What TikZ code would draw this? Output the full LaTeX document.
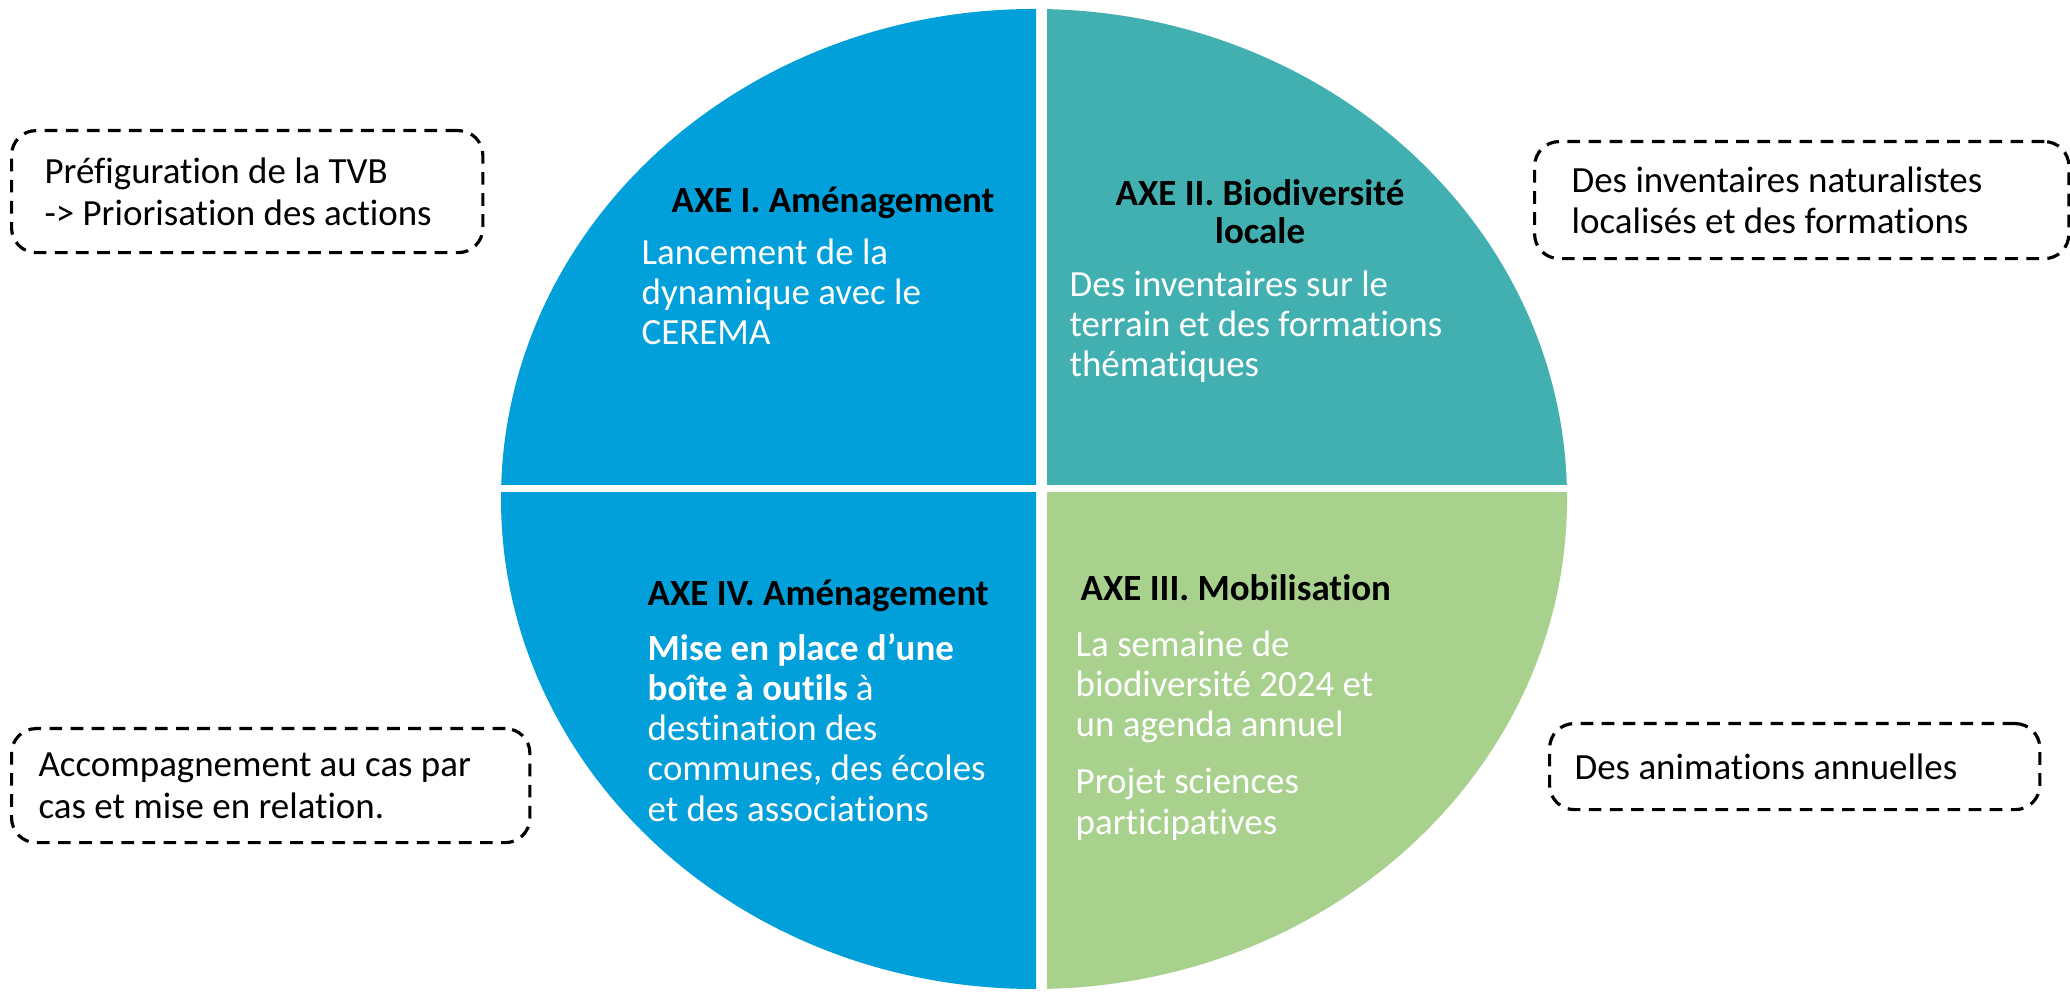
\documentclass[tikz,border=0pt]{standalone}
\usepackage{fontspec}
\setmainfont{Carlito}[Ligatures=CommonOff]
\usetikzlibrary{positioning}
\definecolor{axeblue}{RGB}{2,160,218}
\definecolor{axeteal}{RGB}{66,176,176}
\definecolor{axegreen}{RGB}{169,209,142}

\begin{document}
\begin{tikzpicture}[
    x=0.01cm, y=-0.01cm,
    axetitle/.style={font=\fontsize{10.5}{10.9}\selectfont\bfseries, text=black, inner sep=0pt, align=center, anchor=base},
    axetext/.style={font=\fontsize{10.5}{11.4}\selectfont, text=white, inner sep=0pt, align=flush left, anchor=base west},
    notebox/.style={draw, dash pattern=on 3.6pt off 2.4pt, line width=0.9pt, rounded corners=7pt, align=flush left, anchor=north west, inner ysep=0pt, font=\fontsize{10.5}{11.8}\selectfont}]
  \useasboundingbox (0,0) rectangle (2070,992);

  % the four quarters of the ellipse
  \foreach \xa/\ya/\xb/\yb/\col in {0/0/1036/485/axeblue, 1047/0/2070/485/axeteal, 0/493/1036/992/axeblue, 1047/493/2070/992/axegreen}{
    \begin{scope}
      \clip (\xa,\ya) rectangle (\xb,\yb);
      \fill[\col] (1034,499) ellipse [x radius=533, y radius=490];
    \end{scope}
  }

  % axes (multi-line nodes sit on their last line)
  \node[axetitle] (axeI)    at (833,213)  {AXE I. Aménagement};
  \node[axetext]  (txtI)    at (641,345)  {Lancement de la\\dynamique avec le\\CEREMA};
  \node[axetitle] (axeII)   at (1260,244) {AXE II. Biodiversité\\locale};
  \node[axetext]  (txtII)   at (1069,377) {Des inventaires sur le\\terrain et des formations\\thématiques};
  \node[axetitle, anchor=base west] (axeIV)  at (647,606)  {AXE IV. Aménagement};
  \node[axetext]  (txtIV)   at (647,821)  {\textbf{Mise en place d’une}\\\textbf{boîte à outils} à\\destination des\\communes, des écoles\\et des associations};
  \node[axetitle, anchor=base west] (axeIII) at (1080,601) {AXE III. Mobilisation};
  \node[axetext]  (txtIII)  at (1075,834) {La semaine de\\biodiversité 2024 et\\un agenda annuel\\[0.17cm]Projet sciences\\participatives};

  % dashed notes
  \node[notebox, minimum width=4.71cm, minimum height=1.22cm, inner xsep=0.33cm, text width=4.05cm] (noteI)   at (10,129)   {Préfiguration de la TVB\\-> Priorisation des actions};
  \node[notebox, minimum width=5.34cm, minimum height=1.17cm, inner xsep=0.37cm, text width=4.60cm] (noteII)  at (1533,140) {Des inventaires naturalistes\\localisés et des formations};
  \node[notebox, minimum width=5.18cm, minimum height=1.14cm, inner xsep=0.27cm, text width=4.64cm] (noteIV)  at (10,727)   {Accompagnement au cas par\\cas et mise en relation.};
  \node[notebox, minimum width=4.90cm, minimum height=0.86cm, inner xsep=0.25cm, text width=4.40cm] (noteIII) at (1548,722) {Des animations annuelles};
\end{tikzpicture}
\end{document}
